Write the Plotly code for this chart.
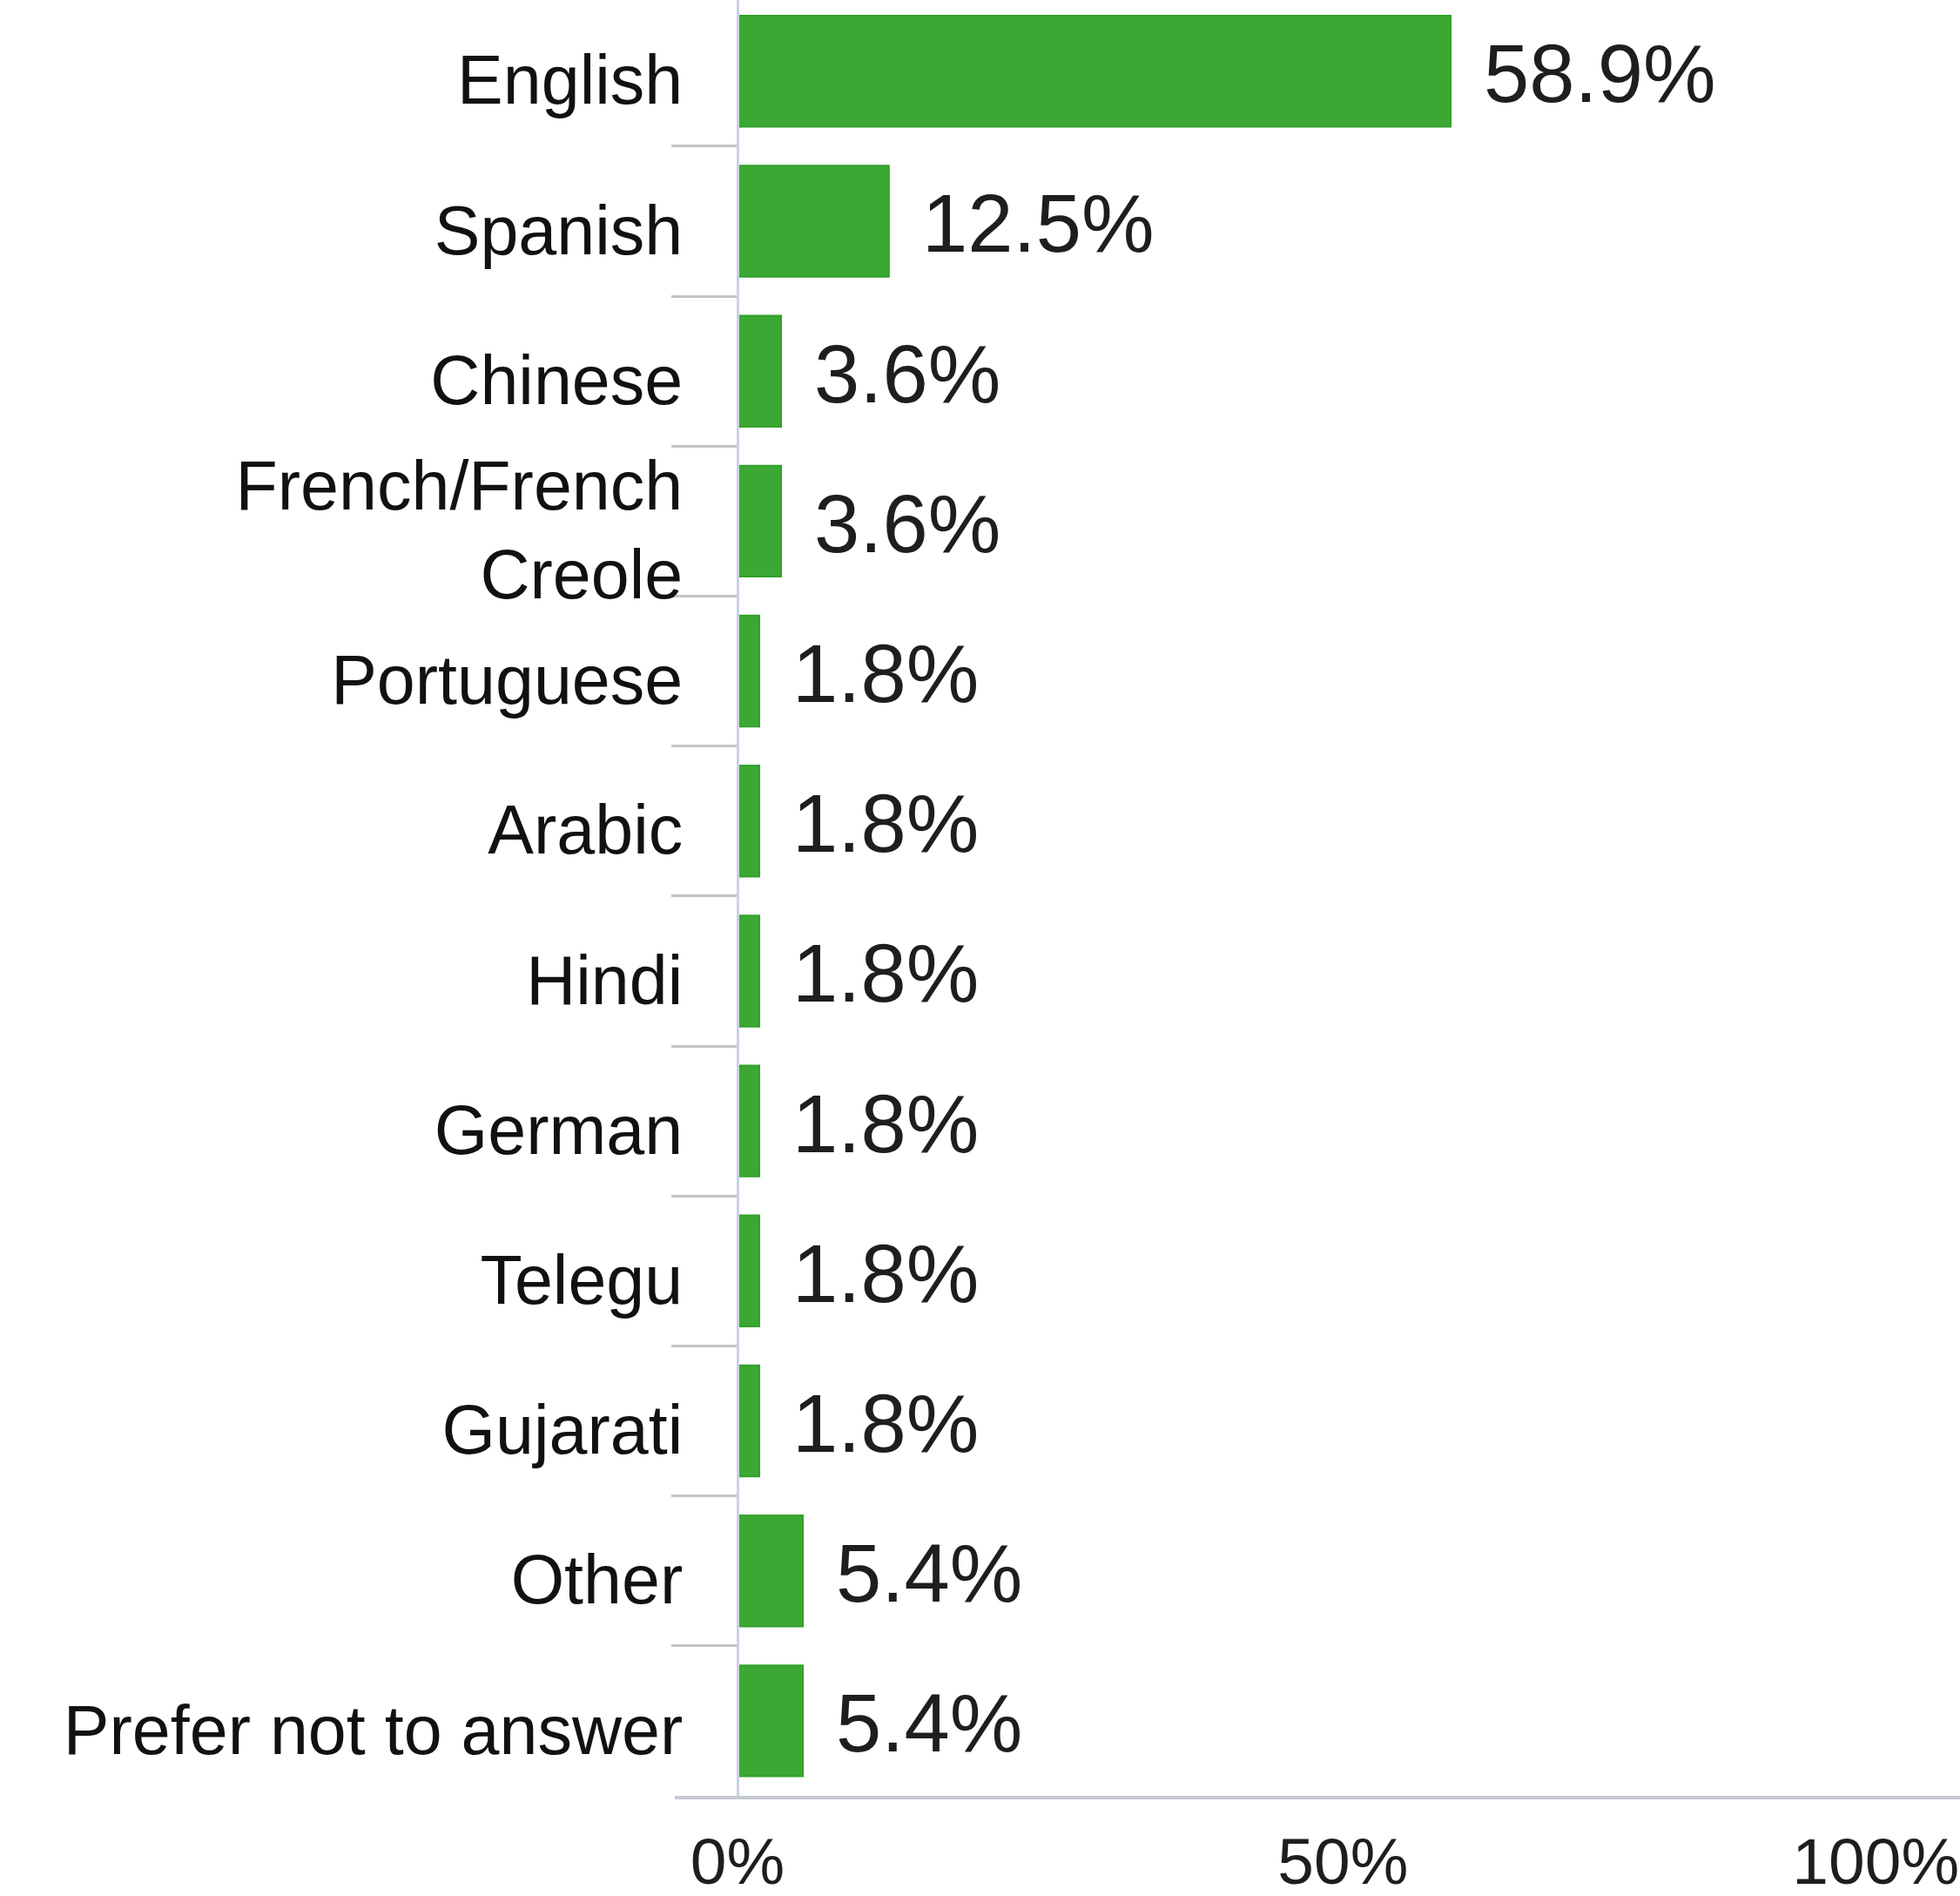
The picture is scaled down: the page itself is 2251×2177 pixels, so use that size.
import plotly.graph_objects as go

# Survey responses: primary language spoken at home (share of respondents, %)
languages = [
    "English",
    "Spanish",
    "Chinese",
    "French/French<br>Creole",
    "Portuguese",
    "Arabic",
    "Hindi",
    "German",
    "Telegu",
    "Gujarati",
    "Other",
    "Prefer not to answer",
]
shares = [58.9, 12.5, 3.6, 3.6, 1.8, 1.8, 1.8, 1.8, 1.8, 1.8, 5.4, 5.4]

x_tick_values = [0, 50, 100]
x_tick_labels = ["0%", "50%", "100%"]

FONT = "Liberation Sans, Arial, Helvetica, sans-serif"
BAR_GREEN = "#3ca834"
TEXT_DARK = "#1e1e1e"
NBSP = "\u00a0"

W, H = 2251, 2177
LEFT, BOTTOM = 775, 115
X_MIN, X_MAX = -5.18, 100.97
zero_frac = (0 - X_MIN) / (X_MAX - X_MIN)

fig = go.Figure()
fig.add_trace(
    go.Bar(
        x=shares,
        y=languages,
        orientation="h",
        marker=dict(color=BAR_GREEN, line=dict(color="#33a02c", width=2)),
        hoverinfo="skip",
    )
)

# value labels to the right of each bar
for lang, v in zip(languages, shares):
    fig.add_annotation(
        x=v,
        y=lang,
        xref="x",
        yref="y",
        text=f"{v:.1f}%",
        showarrow=False,
        xanchor="left",
        yanchor="middle",
        xshift=36,
        yshift=-3,
        font=dict(family=FONT, size=94, color=TEXT_DARK),
    )

# the last tick label is nudged left so it stays mostly inside the page
tick_text = list(x_tick_labels)
tick_text[-1] = tick_text[-1] + NBSP * 8

fig.update_layout(
    width=W,
    height=H,
    margin=dict(l=LEFT, r=0, t=0, b=BOTTOM, autoexpand=False),
    paper_bgcolor="white",
    plot_bgcolor="white",
    showlegend=False,
    bargap=0.26,
    font=dict(family=FONT, color=TEXT_DARK),
)

fig.update_xaxes(
    range=[X_MIN, X_MAX],
    tickvals=x_tick_values,
    ticktext=tick_text,
    tickfont=dict(family=FONT, size=75, color=TEXT_DARK),
    ticks="outside",
    ticklen=7,
    tickcolor="rgba(0,0,0,0)",
    ticklabeloverflow="allow",
    showgrid=False,
    zeroline=False,
    showline=True,
    linecolor="#c6c9d1",
    linewidth=4,
    automargin=False,
    fixedrange=True,
)

fig.update_yaxes(
    type="category",
    categoryorder="array",
    categoryarray=languages,
    range=[11.5, -0.475],
    anchor="free",
    position=zero_frac,
    showline=True,
    linecolor="#c9d3e4",
    linewidth=3,
    ticks="outside",
    tickson="boundaries",
    ticklen=75,
    tickwidth=3,
    tickcolor="#c4c4c8",
    ticklabelstandoff=46,
    ticklabelshift=-10,
    tickfont=dict(family=FONT, size=79, color="#111111"),
    showgrid=False,
    zeroline=False,
    automargin=False,
    fixedrange=True,
)

fig.write_html("out.html")
